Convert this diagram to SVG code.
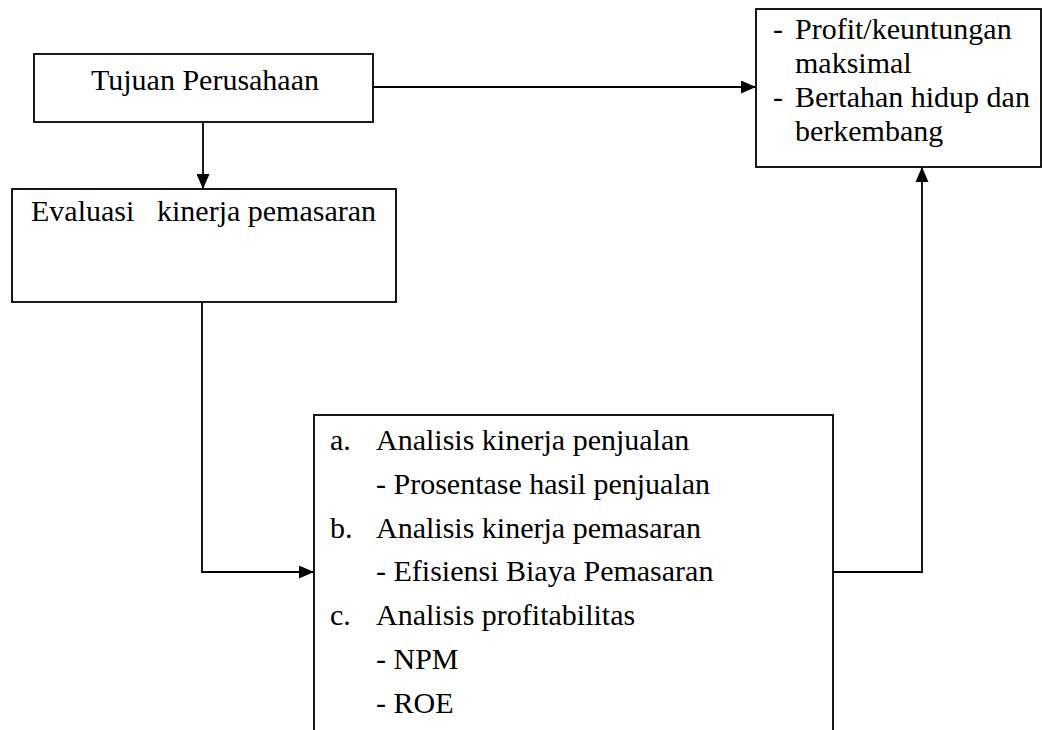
<svg xmlns="http://www.w3.org/2000/svg" width="1042" height="730" viewBox="0 0 1042 730">
<style>
.box{fill:#fff;stroke:#000;stroke-width:1.8}
.t{font-family:'Liberation Serif','DejaVu Serif',serif;font-size:30px;fill:#000}
.c{fill:none;stroke:#000;stroke-width:1.8}
</style>
<defs>
<marker id="arr" markerUnits="userSpaceOnUse" markerWidth="15" markerHeight="13" refX="15" refY="6.5" orient="auto">
<path d="M0,0 L15,6.5 L0,13 z" fill="#000"/>
</marker>
</defs>
<rect width="1042" height="730" fill="#fff"/>
<g id="connectors">
<path class="c" d="M373,87 H756" marker-end="url(#arr)"/>
<path class="c" d="M203,122 V189" marker-end="url(#arr)"/>
<path class="c" d="M202,302 V572 H314" marker-end="url(#arr)"/>
<path class="c" d="M833,572 H922 V167" marker-end="url(#arr)"/>
</g>
<g id="tujuan">
<rect class="box" x="34" y="54" width="339" height="68"/>
<text class="t" x="205" y="90" text-anchor="middle">Tujuan Perusahaan</text>
</g>
<g id="evaluasi">
<rect class="box" x="12" y="189" width="384" height="113"/>
<text class="t" x="31" y="221">Evaluasi<tspan x="157">kinerja pemasaran</tspan></text>
</g>
<g id="hasil">
<rect class="box" x="756" y="9" width="285" height="158"/>
<text class="t" x="773" y="39">-</text>
<text class="t" x="795" y="39">Profit/keuntungan</text>
<text class="t" x="795" y="73">maksimal</text>
<text class="t" x="773" y="107">-</text>
<text class="t" x="795" y="107">Bertahan hidup dan</text>
<text class="t" x="795" y="141">berkembang</text>
</g>
<g id="analisis">
<rect class="box" x="314" y="415" width="519" height="330"/>
<text class="t" x="330" y="450">a.</text>
<text class="t" x="376" y="450">Analisis kinerja penjualan</text>
<text class="t" x="376" y="494">- Prosentase hasil penjualan</text>
<text class="t" x="330" y="538">b.</text>
<text class="t" x="376" y="538">Analisis kinerja pemasaran</text>
<text class="t" x="376" y="581">- Efisiensi Biaya Pemasaran</text>
<text class="t" x="330" y="625">c.</text>
<text class="t" x="376" y="625">Analisis profitabilitas</text>
<text class="t" x="376" y="669">- NPM</text>
<text class="t" x="376" y="713">- ROE</text>
</g>
</svg>
